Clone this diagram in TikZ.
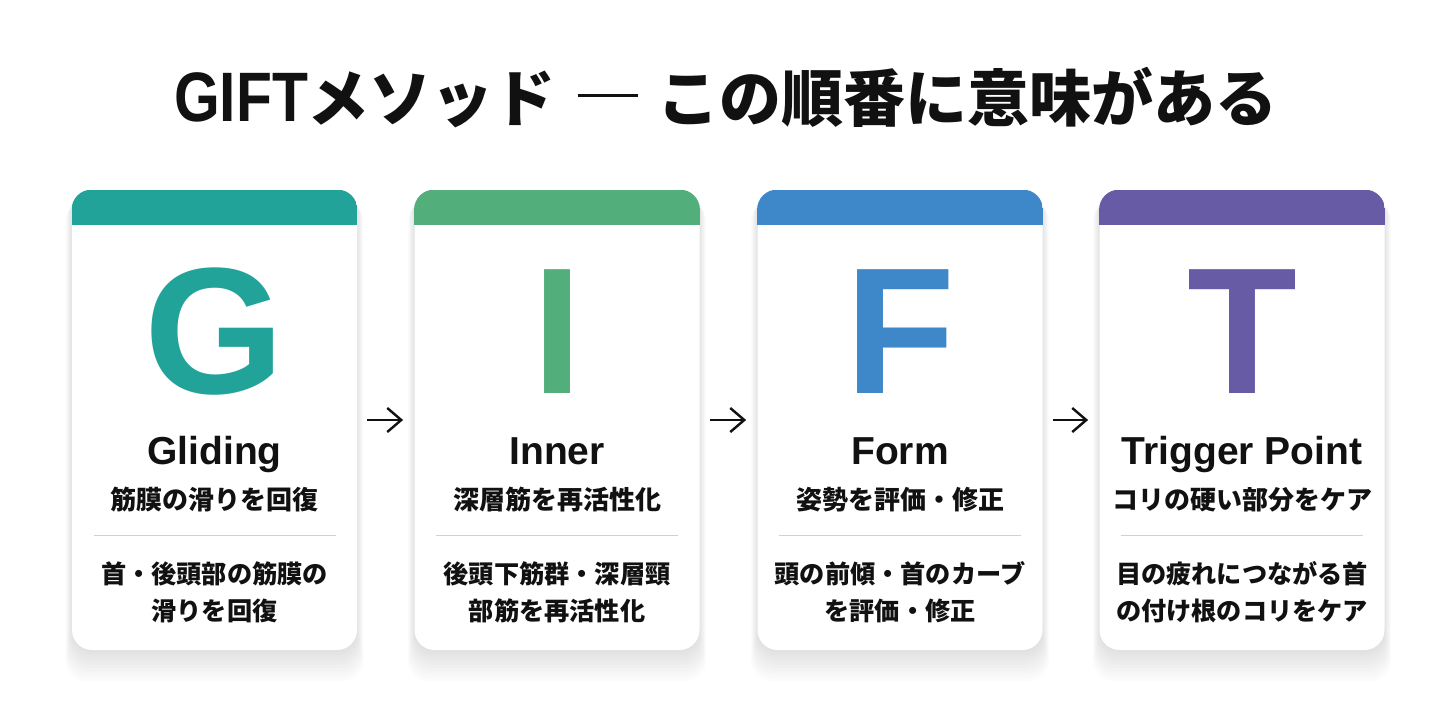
\documentclass[tikz,border=0pt]{standalone}
\usepackage{fontspec}
\setmainfont{Liberation Sans}
\newfontfamily\jp{Noto Sans CJK JP}
\usetikzlibrary{positioning,shadows,arrows.meta}

\definecolor{gcol}{HTML}{22A39A}
\definecolor{icol}{HTML}{52AE7B}
\definecolor{fcol}{HTML}{3E87C9}
\definecolor{tcol}{HTML}{675BA6}
\definecolor{ink}{HTML}{111111}

\tikzset{
  softshadow/.style 2 args={drop shadow={shadow xshift=0pt, shadow yshift=-#2, shadow scale=#1, opacity=.022}},
  card/.style={fill=white, rounded corners=10pt, minimum width=142.5pt, minimum height=230pt, inner sep=0pt,
    softshadow={1.000}{1pt}, softshadow={1.005}{2pt}, softshadow={1.010}{3pt}, softshadow={1.015}{4pt},
    softshadow={1.020}{5pt}, softshadow={1.025}{6pt}, softshadow={1.030}{7pt}, softshadow={1.035}{8pt},
    softshadow={1.040}{9pt}, softshadow={1.045}{10pt}},
  bigletter/.style={font=\fontsize{90}{90}\selectfont\bfseries, text=#1, anchor=base},
  cardname/.style={font=\fontsize{19.5}{20}\selectfont\bfseries, text=ink, anchor=base},
  cardsub/.style={font=\jp\bfseries\fontsize{13}{15}\selectfont, text=ink, anchor=base},
  carddesc/.style={font=\jp\bfseries\fontsize{12.6}{18.5}\selectfont, text=ink, align=center},
  divider/.style={draw=black!18, line width=0.5pt},
  flow/.style={-{Straight Barb[length=7pt,width=12pt]}, line width=1.2pt, draw=ink, shorten <=5pt, shorten >=5.5pt}
}

\begin{document}
\begin{tikzpicture}[x=0.5pt,y=-0.5pt]
\useasboundingbox[fill=white] (0,0) rectangle (1456,720);

% title
\node[text=ink, anchor=base] (title) at (726,121)
  {\fontsize{35}{35}\selectfont\bfseries\scalebox{0.84}[1]{GIFT}{\jp\fontsize{31}{31}\selectfont メソッド\hspace{11pt}\rule[12pt]{30pt}{1.5pt}\hspace{10pt}この順番に意味がある}};

% cards
\foreach \id/\cx/\col/\letter/\name/\sub/\descA/\descB in {
  G/214.5/gcol/G/Gliding/筋膜の滑りを回復/首・後頭部の筋膜の/滑りを回復,
  I/557/icol/I/Inner/深層筋を再活性化/後頭下筋群・深層頸/部筋を再活性化,
  F/900/fcol/F/Form/姿勢を評価・修正/頭の前傾・首のカーブ/を評価・修正,
  T/1242/tcol/T/Trigger Point/コリの硬い部分をケア/目の疲れにつながる首/の付け根のコリをケア}
{
  \node[card] (card\id) at (\cx,420) {};
  \begin{scope}
    \clip[rounded corners=10pt] (card\id.south west) rectangle (card\id.north east);
    \fill[\col] (card\id.north west) rectangle ([yshift=-17.5pt]card\id.north east);
  \end{scope}
  \node[bigletter=\col] (letter\id) at (\cx,393) {\letter};
  \node[cardname] (name\id) at (\cx,464) {\name};
  \node[cardsub] (sub\id) at (\cx,509) {\sub};
  \draw[divider] (\cx-121,535) -- (\cx+121,535);
  \node[carddesc] (desc\id) at (\cx,592) {\descA\\\descB};
}

% order
\draw[flow] (cardG) -- (cardI);
\draw[flow] (cardI) -- (cardF);
\draw[flow] (cardF) -- (cardT);

\end{tikzpicture}
\end{document}
